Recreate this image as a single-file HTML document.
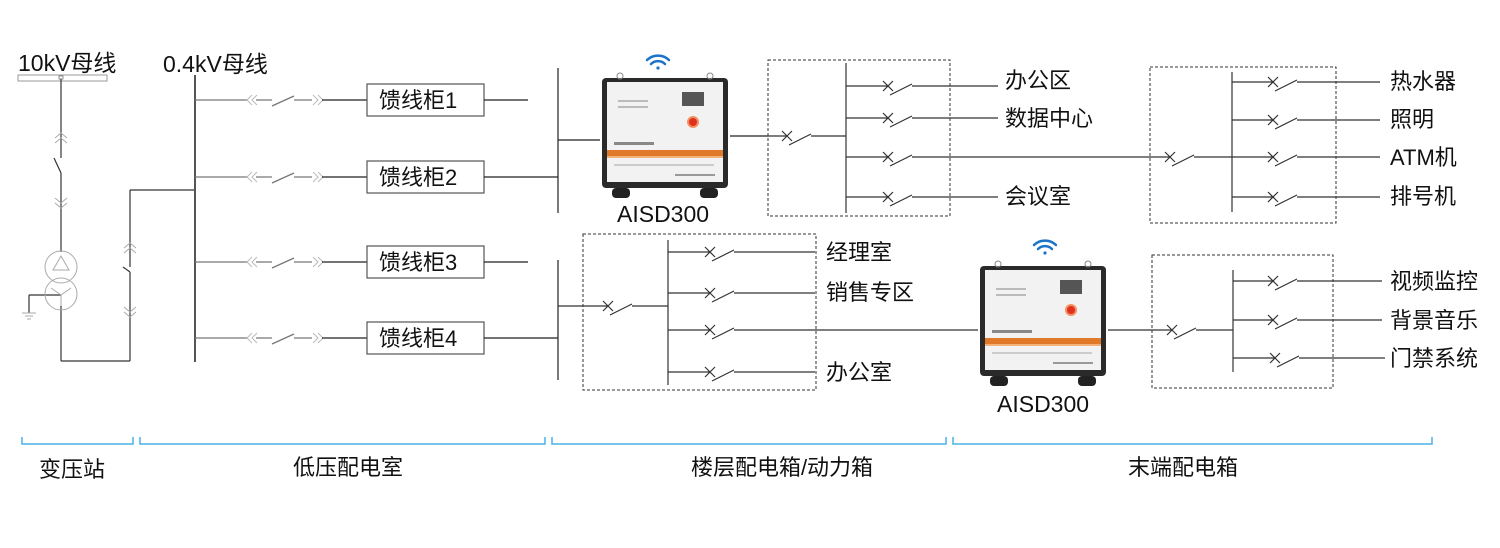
<!DOCTYPE html>
<html><head><meta charset="utf-8"><style>
html,body{margin:0;padding:0;background:#fff}
svg{display:block}
text{font-family:"Liberation Sans","Noto Sans CJK SC",sans-serif;fill:#111}
</style></head><body>
<svg width="1500" height="548" viewBox="0 0 1500 548" xmlns="http://www.w3.org/2000/svg">
<defs>
<g id="dev">
  <rect x="2" y="8" width="126" height="110" rx="4" fill="#2a2a2a"/>
  <rect x="7" y="12" width="116" height="100" fill="#f2f2f2"/>
  <rect x="7" y="80" width="116" height="6" fill="#e07a2a"/>
  <rect x="7" y="86" width="116" height="2" fill="#f3b27a"/>
  <rect x="82" y="22" width="22" height="14" fill="#555"/>
  <circle cx="93" cy="52" r="5" fill="#e03020" stroke="#f29060" stroke-width="2"/>
  <rect x="18" y="30" width="30" height="2" fill="#bbb"/>
  <rect x="18" y="36" width="30" height="2" fill="#bbb"/>
  <rect x="14" y="72" width="40" height="3" fill="#888"/>
  <rect x="14" y="94" width="100" height="2" fill="#ccc"/>
  <rect x="75" y="104" width="40" height="2" fill="#999"/>
  <rect x="12" y="118" width="18" height="10" rx="4" fill="#222"/>
  <rect x="100" y="118" width="18" height="10" rx="4" fill="#222"/>
  <circle cx="20" cy="6" r="3" fill="none" stroke="#888"/>
  <circle cx="110" cy="6" r="3" fill="none" stroke="#888"/>
</g>
<g id="wifi" fill="none" stroke="#1a73c8" stroke-width="2.5" stroke-linecap="round">
  <path d="M-11,-4 A16,16 0 0 1 11,-4"/>
  <path d="M-7,0 A10,10 0 0 1 7,0"/>
  <circle cx="0" cy="4" r="1.6" fill="#1a73c8" stroke="none"/>
</g>
</defs>

<text x="18" y="71" font-size="23">10kV母线</text>
<text x="163" y="72" font-size="23">0.4kV母线</text>

<rect x="18" y="75" width="89" height="6" fill="#fff" stroke="#999"/>
<rect x="59" y="76" width="4" height="3" fill="#fff" stroke="#777" stroke-width="0.8"/>
<g stroke="#333" stroke-width="1.2" fill="none">
  <line x1="61" y1="79" x2="61" y2="158"/>
  <line x1="61" y1="173" x2="54" y2="158"/>
  <line x1="61" y1="173" x2="61" y2="252"/>
  <line x1="61" y1="306" x2="61" y2="361"/>
  <line x1="61" y1="361" x2="130" y2="361"/>
  <line x1="130" y1="361" x2="130" y2="272"/>
  <line x1="130" y1="272" x2="123" y2="267"/>
  <line x1="130" y1="267" x2="130" y2="190"/>
  <line x1="130" y1="190" x2="195" y2="190"/>
  <line x1="29" y1="295" x2="61" y2="295"/>
  <line x1="29" y1="295" x2="29" y2="313"/>
</g>
<g stroke="#aaa" stroke-width="1" fill="none">
  <path d="M55,138 l6,-5 l6,5 M55,143 l6,-5 l6,5"/>
  <path d="M55,198 l6,5 l6,-5 M55,203 l6,5 l6,-5"/>
  <path d="M124,248 l6,-5 l6,5 M124,253 l6,-5 l6,5"/>
  <path d="M124,307 l6,5 l6,-5 M124,312 l6,5 l6,-5"/>
  <circle cx="61" cy="267" r="16"/>
  <circle cx="61" cy="294" r="16"/>
  <path d="M61,256 l-8,14 h16 z"/>
  <path d="M61,295 l-10,-7 M61,295 l10,-7 M61,295 v11"/>
  <path d="M22,313 h14 M25,316 h8 M27,319 h4"/>
</g>

<line x1="195" y1="75" x2="195" y2="362" stroke="#555" stroke-width="2"/>

<g stroke="#777" stroke-width="1.3" fill="none">
  <path d="M195,100 H248 M195,177 H248 M195,262 H248 M195,338 H248"/>
  <path d="M256,100 H272 M256,177 H272 M256,262 H272 M256,338 H272"/>
  <path d="M272,106 L294,96 M272,183 L294,173 M272,268 L294,258 M272,344 L294,334"/>
  <path d="M294,100 H312 M294,177 H312 M294,262 H312 M294,338 H312"/>
</g>
<g stroke="#bbb" stroke-width="1" fill="none">
  <path d="M252,95 l-5,5 l5,5 M257,95 l-5,5 l5,5 M252,172 l-5,5 l5,5 M257,172 l-5,5 l5,5 M252,257 l-5,5 l5,5 M257,257 l-5,5 l5,5 M252,333 l-5,5 l5,5 M257,333 l-5,5 l5,5"/>
  <path d="M313,95 l5,5 l-5,5 M318,95 l5,5 l-5,5 M313,172 l5,5 l-5,5 M318,172 l5,5 l-5,5 M313,257 l5,5 l-5,5 M318,257 l5,5 l-5,5 M313,333 l5,5 l-5,5 M318,333 l5,5 l-5,5"/>
</g>
<g stroke="#222" stroke-width="1.2" fill="none">
  <path d="M322,100 H367 M322,177 H367 M322,262 H367 M322,338 H367"/>
  <rect x="367" y="84" width="117" height="32" stroke="#555"/>
  <rect x="367" y="161" width="117" height="32" stroke="#555"/>
  <rect x="367" y="246" width="117" height="32" stroke="#555"/>
  <rect x="367" y="322" width="117" height="32" stroke="#555"/>
  <path d="M484,100 H528 M484,177 H558 M484,262 H528 M484,338 H558"/>
  <path d="M558,68 V213 M558,260 V380"/>
  <path d="M558,140 H600 M730,136 H768"/>
</g>
<g font-size="22">
  <text x="379" y="108">馈线柜1</text>
  <text x="379" y="185">馈线柜2</text>
  <text x="379" y="270">馈线柜3</text>
  <text x="379" y="346">馈线柜4</text>
</g>

<use href="#wifi" x="658" y="64"/>
<use href="#dev" x="600" y="70"/>
<text x="617" y="222" font-size="23">AISD300</text>
<use href="#wifi" x="1045" y="249"/>
<use href="#dev" x="978" y="258"/>
<text x="997" y="412" font-size="23">AISD300</text>

<g stroke="#333" stroke-width="1" fill="none" stroke-dasharray="3,2">
  <rect x="768" y="60" width="182" height="156"/>
  <rect x="1150" y="67" width="186" height="156"/>
  <rect x="583" y="234" width="233" height="156"/>
  <rect x="1152" y="255" width="181" height="133"/>
</g>

<g stroke="#333" stroke-width="1.2" fill="none">
  <path d="M768,136 H787 M782,131 l10,10 M782,141 l10,-10 M789,145 L811,134 M811,136 H846"/>
  <path d="M846,63 V213"/>
  <path d="M846,86 H888 M883,81 l10,10 M883,91 l10,-10 M890,95 L912,84 M912,86 H998"/>
  <path d="M846,118 H888 M883,113 l10,10 M883,123 l10,-10 M890,127 L912,116 M912,118 H998"/>
  <path d="M846,157 H888 M883,152 l10,10 M883,162 l10,-10 M890,166 L912,155 M912,157 H1150"/>
  <path d="M846,197 H888 M883,192 l10,10 M883,202 l10,-10 M890,206 L912,195 M912,197 H998"/>
  <path d="M1150,157 H1170 M1165,152 l10,10 M1165,162 l10,-10 M1172,166 L1194,155 M1194,157 H1232"/>
  <path d="M1232,72 V212"/>
  <path d="M1232,82 H1273 M1268,77 l10,10 M1268,87 l10,-10 M1275,91 L1297,80 M1297,82 H1380"/>
  <path d="M1232,120 H1273 M1268,115 l10,10 M1268,125 l10,-10 M1275,129 L1297,118 M1297,120 H1380"/>
  <path d="M1232,157 H1273 M1268,152 l10,10 M1268,162 l10,-10 M1275,166 L1297,155 M1297,157 H1380"/>
  <path d="M1232,197 H1273 M1268,192 l10,10 M1268,202 l10,-10 M1275,206 L1297,195 M1297,197 H1380"/>
  <path d="M558,306 H608 M603,301 l10,10 M603,311 l10,-10 M610,315 L632,304 M632,306 H668"/>
  <path d="M668,240 V385"/>
  <path d="M668,252 H710 M705,247 l10,10 M705,257 l10,-10 M712,261 L734,250 M734,252 H815"/>
  <path d="M668,293 H710 M705,288 l10,10 M705,298 l10,-10 M712,302 L734,291 M734,293 H815"/>
  <path d="M668,330 H710 M705,325 l10,10 M705,335 l10,-10 M712,339 L734,328 M734,330 H978"/>
  <path d="M668,372 H710 M705,367 l10,10 M705,377 l10,-10 M712,381 L734,370 M734,372 H815"/>
  <path d="M1108,330 H1172 M1167,325 l10,10 M1167,335 l10,-10 M1174,339 L1196,328 M1196,330 H1233"/>
  <path d="M1233,270 V372"/>
  <path d="M1233,281 H1273 M1268,276 l10,10 M1268,286 l10,-10 M1275,290 L1297,279 M1297,281 H1382"/>
  <path d="M1233,320 H1273 M1268,315 l10,10 M1268,325 l10,-10 M1275,329 L1297,318 M1297,320 H1382"/>
  <path d="M1233,358 H1275 M1270,353 l10,10 M1270,363 l10,-10 M1277,367 L1299,356 M1299,358 H1385"/>
</g>

<g font-size="22">
  <text x="1005" y="88">办公区</text>
  <text x="1005" y="126">数据中心</text>
  <text x="1005" y="204">会议室</text>
  <text x="1390" y="89">热水器</text>
  <text x="1390" y="127">照明</text>
  <text x="1390" y="165">ATM机</text>
  <text x="1390" y="204">排号机</text>
  <text x="826" y="260">经理室</text>
  <text x="826" y="300">销售专区</text>
  <text x="826" y="380">办公室</text>
  <text x="1390" y="289">视频监控</text>
  <text x="1390" y="328">背景音乐</text>
  <text x="1390" y="366">门禁系统</text>
</g>

<g stroke="#4ab0e6" stroke-width="1.5" fill="none">
  <path d="M22,437 V444 H133 V437"/>
  <path d="M140,437 V444 H545 V437"/>
  <path d="M552,437 V444 H946 V437"/>
  <path d="M953,437 V444 H1432 V437"/>
</g>
<g font-size="22" text-anchor="middle">
  <text x="72" y="477">变压站</text>
  <text x="348" y="475">低压配电室</text>
  <text x="782" y="475">楼层配电箱/动力箱</text>
  <text x="1183" y="475">末端配电箱</text>
</g>
</svg>
</body></html>
